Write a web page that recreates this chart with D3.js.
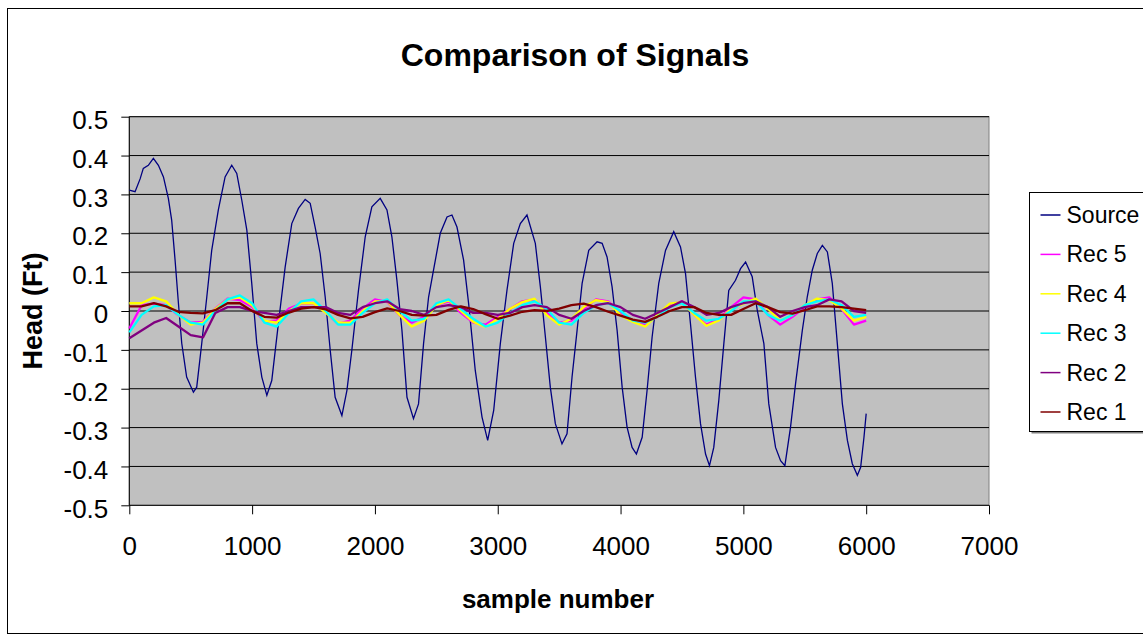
<!DOCTYPE html>
<html>
<head>
<meta charset="utf-8">
<script src="https://cdn.jsdelivr.net/npm/d3@7"></script>
<style>
  body { margin: 0; background: #fff; }
  svg { display: block; font-family: Arial, "Liberation Sans", sans-serif; }
</style>
</head>
<body>
<svg id="chart" width="1143" height="635"></svg>
<script>
// Source signal: [sample, head]
const sourceData = [
  [0,0.311],[47,0.307],[88,0.34],[114,0.367],[155,0.375],[196,0.393],[237,0.375],[278,0.345],[318,0.29],[345,0.234],
  [373,0.13],[400,0.02],[427,-0.083],[467,-0.17],[522,-0.209],[549,-0.196],[590,-0.083],[631,0.036],[671,0.156],[725,0.26],
  [780,0.345],[834,0.375],[875,0.354],[916,0.285],[957,0.208],[997,0.071],[1038,-0.084],[1079,-0.17],[1120,-0.217],[1160,-0.179],
  [1214,-0.032],[1269,0.113],[1323,0.225],[1377,0.264],[1432,0.287],[1473,0.277],[1513,0.216],[1554,0.148],[1595,0.036],[1636,-0.101],
  [1676,-0.222],[1731,-0.269],[1772,-0.204],[1812,-0.101],[1866,0.053],[1921,0.191],[1975,0.268],[2043,0.29],[2098,0.26],[2138,0.191],
  [2179,0.079],[2220,-0.05],[2261,-0.222],[2314,-0.277],[2355,-0.239],[2396,-0.084],[2437,0.036],[2477,0.105],[2532,0.2],[2587,0.242],
  [2627,0.247],[2668,0.216],[2722,0.131],[2763,0.019],[2817,-0.153],[2872,-0.273],[2918,-0.333],[2967,-0.256],[3021,-0.084],[3075,0.053],
  [3130,0.174],[3184,0.225],[3238,0.247],[3306,0.174],[3347,0.062],[3388,-0.067],[3428,-0.196],[3469,-0.29],[3523,-0.342],[3564,-0.316],
  [3605,-0.17],[3646,-0.05],[3687,0.071],[3741,0.156],[3809,0.178],[3850,0.174],[3890,0.139],[3931,0.062],[3972,-0.05],[4013,-0.196],
  [4053,-0.299],[4094,-0.351],[4129,-0.368],[4176,-0.325],[4216,-0.204],[4257,-0.067],[4311,0.071],[4366,0.156],[4433,0.204],[4488,0.165],
  [4529,0.096],[4569,-0.032],[4610,-0.17],[4651,-0.29],[4692,-0.368],[4724,-0.398],[4759,-0.351],[4800,-0.23],[4841,-0.084],[4881,0.053],
  [4936,0.079],[4977,0.109],[5018,0.126],[5072,0.088],[5113,0.002],[5167,-0.084],[5207,-0.239],[5262,-0.351],[5303,-0.385],[5338,-0.398],
  [5384,-0.299],[5425,-0.187],[5480,-0.05],[5520,0.036],[5561,0.105],[5602,0.148],[5643,0.169],[5684,0.152],[5724,0.071],[5765,-0.084],
  [5806,-0.239],[5847,-0.333],[5887,-0.393],[5928,-0.423],[5955,-0.402],[5982,-0.325],[6000,-0.264]
];

// Receiver samples (shared x for Rec series)
const recSamples = [
  0,100,200,300,400,500,600,700,800,900,1000,1100,1200,1300,1400,1500,1600,1700,1800,1900,
  2000,2100,2200,2300,2400,2500,2600,2700,2800,2900,3000,3100,3200,3300,3400,3500,3600,3700,3800,3900,
  4000,4100,4200,4300,4400,4500,4600,4700,4800,4900,5000,5100,5200,5300,5400,5500,5600,5700,5800,5900,6000
];

const rec5 = [
  -0.045,0.015,0.019,0.015,-0.011,-0.03,-0.028,0.006,0.032,0.028,
  0.01,-0.028,-0.024,0.006,0.019,0.019,-0.003,-0.033,-0.024,0.006,
  0.03,0.023,-0.011,-0.03,-0.015,0.015,0.025,-0.005,-0.03,-0.035,
  -0.015,0.005,0.025,0.03,-0.005,-0.03,-0.025,0.005,0.03,0.025,
  -0.005,-0.025,-0.035,-0.01,0.015,0.025,-0.01,-0.035,-0.02,0.01,
  0.035,0.03,-0.01,-0.035,-0.015,0.01,0.03,0.035,0.005,-0.035,
  -0.025
];
const rec4 = [
  0.02,0.02,0.035,0.025,-0.01,-0.035,-0.03,0.005,0.03,0.035,
  0.015,-0.025,-0.03,0.0,0.02,0.02,-0.005,-0.03,-0.03,0.0,
  0.025,0.025,-0.01,-0.04,-0.025,0.015,0.028,0.0,-0.028,-0.041,
  -0.02,0.006,0.023,0.032,-0.011,-0.035,-0.02,0.01,0.028,0.023,
  -0.011,-0.028,-0.04,-0.01,0.019,0.023,-0.01,-0.038,-0.024,0.006,
  0.019,0.032,0.006,-0.025,-0.01,0.015,0.032,0.028,0.006,-0.025,
  -0.015
];
const rec3 = [
  -0.055,-0.01,0.012,0.015,-0.01,-0.03,-0.035,0.0,0.03,0.04,
  0.02,-0.03,-0.04,-0.005,0.025,0.03,0.0,-0.035,-0.035,-0.005,
  0.02,0.03,0.0,-0.025,-0.02,0.02,0.03,0.005,-0.02,-0.04,
  -0.03,-0.005,0.015,0.025,0.005,-0.03,-0.035,-0.005,0.015,0.02,
  0.0,-0.025,-0.03,-0.015,0.01,0.02,-0.005,-0.025,-0.02,0.0,
  0.025,0.025,-0.01,-0.025,-0.01,0.015,0.025,0.03,0.015,-0.015,
  -0.01
];
const rec2 = [
  -0.07,-0.05,-0.03,-0.018,-0.04,-0.062,-0.068,-0.005,0.01,0.01,
  0.0,-0.005,-0.01,0.0,0.01,0.01,0.01,-0.005,-0.01,0.01,
  0.02,0.025,0.005,0.0,-0.01,0.01,0.015,0.01,-0.005,-0.005,
  -0.01,-0.005,0.01,0.015,0.01,-0.01,-0.02,0.0,0.015,0.02,
  0.01,-0.01,-0.02,-0.005,0.01,0.025,0.01,-0.01,-0.005,0.01,
  0.02,0.025,0.01,-0.015,0.0,0.01,0.015,0.03,0.025,0.0,
  -0.005
];
const rec1 = [
  0.012,0.012,0.02,0.012,-0.002,-0.005,-0.006,0.002,0.02,0.02,
  0.0,-0.015,-0.017,-0.004,0.006,0.01,0.004,-0.01,-0.019,-0.015,
  -0.003,0.007,0.0,-0.01,-0.012,-0.01,0.003,0.012,0.005,-0.008,
  -0.02,-0.012,-0.002,0.002,0.0,0.006,0.015,0.019,0.01,-0.002,
  -0.012,-0.022,-0.028,-0.015,0.0,0.01,0.01,-0.005,-0.01,-0.01,
  0.005,0.02,0.01,-0.003,-0.007,0.002,0.012,0.012,0.01,0.006,
  0.002
];

const seriesNames = ['Source', 'Rec 5', 'Rec 4', 'Rec 3', 'Rec 2', 'Rec 1'];
const seriesColors = ['#000080', '#FF00FF', '#FFFF00', '#00FFFF', '#800080', '#800000'];
const xTicks = [0, 1000, 2000, 3000, 4000, 5000, 6000, 7000];
const yTicks = [-0.5, -0.4, -0.3, -0.2, -0.1, 0, 0.1, 0.2, 0.3, 0.4, 0.5];

const svg = d3.select('#chart');
const margin = { top: 116.7, right: 154, bottom: 129.7, left: 129.3 };
const width = 1143, height = 635;

const xScale = d3.scaleLinear().domain([0, 7000]).range([margin.left, width - margin.right]);
const yScale = d3.scaleLinear().domain([-0.5, 0.5]).range([height - margin.bottom, margin.top]);

// chart border
svg.append('rect')
    .attr('x', 7.5).attr('y', 8.5)
    .attr('width', 1150).attr('height', 625)
    .attr('fill', '#fff').attr('stroke', '#000').attr('stroke-width', 1);

// plot area
svg.append('rect')
    .attr('x', xScale(0)).attr('y', yScale(0.5))
    .attr('width', xScale(7000) - xScale(0))
    .attr('height', yScale(-0.5) - yScale(0.5))
    .attr('fill', '#C0C0C0')
    .attr('stroke', '#808080').attr('stroke-width', 1);

// gridlines
svg.append('g')
    .selectAll('line')
    .data(yTicks.filter(d => d > -0.5))
    .join('line')
    .attr('x1', xScale(0)).attr('x2', xScale(7000))
    .attr('y1', d => yScale(d)).attr('y2', d => yScale(d))
    .attr('stroke', '#000').attr('stroke-width', 1);

// axes
const xAxis = d3.axisBottom(xScale).tickValues(xTicks).tickSize(9).tickPadding(28).tickFormat(d3.format('d'));
const yAxis = d3.axisLeft(yScale).tickValues(yTicks).tickSize(8).tickPadding(13)
    .tickFormat(d => d === 0 ? '0' : d.toFixed(1));

const gx = svg.append('g')
    .attr('transform', `translate(0,${yScale(-0.5)})`)
    .call(xAxis);
const gy = svg.append('g')
    .attr('transform', `translate(${xScale(0)},0)`)
    .call(yAxis);

[gx, gy].forEach(g => {
    g.select('.domain').attr('stroke', '#000');
    g.selectAll('.tick line').attr('stroke', '#000');
    g.selectAll('.tick text')
        .attr('fill', '#000')
        .style('font-size', '26px')
        .style('font-family', 'Arial, "Liberation Sans", sans-serif');
});
gx.select('.domain').attr('d', `M${xScale(0)},0H${xScale(7000)}`);
gy.select('.domain').attr('d', `M0,${yScale(0.5)}V${yScale(-0.5)}`);
gy.selectAll('.tick text').attr('dy', '0.45em');
gx.selectAll('.tick text').attr('dy', '0.5em');

// lines
const line = d3.line()
    .x(d => xScale(d[0]))
    .y(d => yScale(d[1]));

const plotG = svg.append('g');

plotG.append('path')
    .datum(sourceData)
    .attr('fill', 'none')
    .attr('stroke', seriesColors[0])
    .attr('stroke-width', 1.3)
    .attr('d', line);

const recs = [rec5, rec4, rec3, rec2, rec1];
recs.forEach((vals, i) => {
    plotG.append('path')
        .datum(recSamples.map((s, j) => [s, vals[j]]))
        .attr('fill', 'none')
        .attr('stroke', seriesColors[i + 1])
        .attr('stroke-width', 2.3)
        .attr('stroke-linejoin', 'round')
        .attr('d', line);
});

// title
svg.append('text')
    .attr('x', 575).attr('y', 66)
    .attr('text-anchor', 'middle')
    .style('font-size', '32px').style('font-weight', 'bold')
    .text('Comparison of Signals');

// axis labels
svg.append('text')
    .attr('x', 558).attr('y', 608)
    .attr('text-anchor', 'middle')
    .style('font-size', '26px').style('font-weight', 'bold')
    .text('sample number');

svg.append('text')
    .attr('transform', `translate(42,${(yScale(0.5) + yScale(-0.5)) / 2}) rotate(-90)`)
    .attr('text-anchor', 'middle')
    .style('font-size', '27px').style('font-weight', 'bold')
    .text('Head (Ft)');

// legend
const legend = svg.append('g').attr('transform', 'translate(1029.5,192.5)');
legend.append('rect')
    .attr('x', 2).attr('y', 2)
    .attr('width', 200).attr('height', 239)
    .attr('fill', '#808080');
legend.append('rect')
    .attr('width', 200).attr('height', 239)
    .attr('fill', '#fff').attr('stroke', '#000').attr('stroke-width', 1);

const items = legend.selectAll('g.item')
    .data(seriesNames)
    .join('g')
    .attr('class', 'item')
    .attr('transform', (d, i) => `translate(0,${22.5 + i * 39.4})`);
items.append('line')
    .attr('x1', 11).attr('x2', 31)
    .attr('stroke', (d, i) => seriesColors[i])
    .attr('stroke-width', 1.5);
items.append('text')
    .attr('x', 37).attr('dy', '0.35em')
    .style('font-size', '23px')
    .text(d => d);
</script>
</body>
</html>
